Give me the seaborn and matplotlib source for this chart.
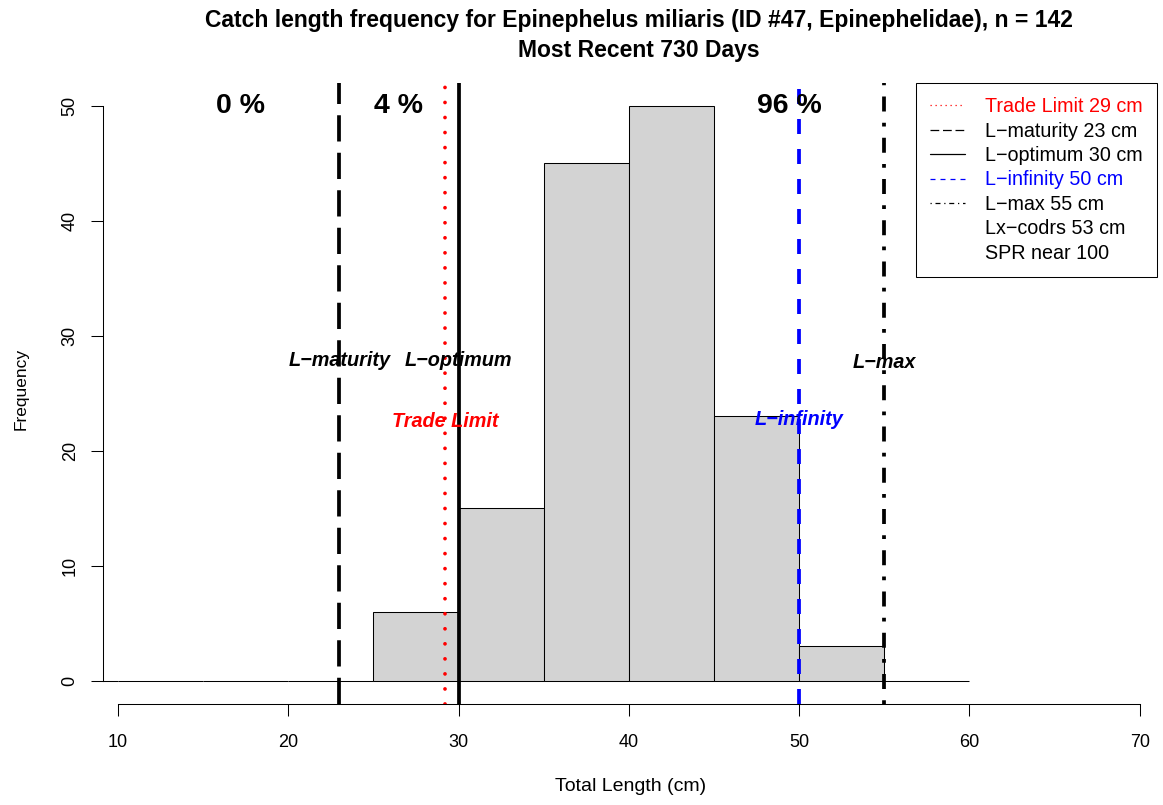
import matplotlib
matplotlib.use("Agg")
import matplotlib.pyplot as plt
import seaborn as sns
from matplotlib.lines import Line2D

# Length classes (cm) and catch counts per 5 cm class
bin_edges = [0, 5, 10, 15, 20, 25, 30, 35, 40, 45, 50, 55, 60]
bin_counts = [0, 0, 0, 0, 0, 6, 15, 45, 50, 23, 3, 0]

# Reference lengths (cm)
trade_limit = 29.2
l_maturity = 23
l_optimum = 30
l_infinity = 50
l_max = 55
lx_codrs = 53
spr_note = "SPR near 100"

species = "Epinephelus miliaris"
species_id = 47
family = "Epinephelidae"
period = "Most Recent 730 Days"

x_ticks = [10, 20, 30, 40, 50, 60, 70]
y_ticks = [0, 10, 20, 30, 40, 50]

# Where the zone percentages are written (data coords)
zone_x = [17.2, 26.5, 49.4]
zone_y = 50

# Share of the catch below maturity, between maturity and optimum, above optimum
n_total = sum(bin_counts)
mids = [(a + b) / 2 for a, b in zip(bin_edges[:-1], bin_edges[1:])]
below = sum(c for m, c in zip(mids, bin_counts) if m < l_maturity)
between = sum(c for m, c in zip(mids, bin_counts) if l_maturity <= m < l_optimum)
above = sum(c for m, c in zip(mids, bin_counts) if m >= l_optimum)
zone_pct = [round(100 * v / n_total) for v in (below, between, above)]

sns.set_theme(style="white", rc={
    "axes.edgecolor": "black", "text.color": "black", "axes.labelcolor": "black",
    "xtick.color": "black", "ytick.color": "black",
})
plt.rcParams["font.family"] = ["Liberation Sans", "DejaVu Sans"]

W, H = 1163, 805
fig = plt.figure(figsize=(W / 100, H / 100), dpi=100)
ax = fig.add_axes([103.3 / W, (H - 704) / H, (1174.7 - 103.3) / W, (704 - 82.8) / H])

sns.histplot(x=mids, weights=bin_counts, bins=bin_edges, color="#D3D3D3",
             edgecolor="black", linewidth=0.75, alpha=1, ax=ax, zorder=1)

lw = 2.7
ax.axvline(l_maturity, color="black", lw=lw, dashes=(7, 3), zorder=3)
ax.axvline(trade_limit, color="red", lw=lw, dashes=(0.01, 4),
           dash_capstyle="round", zorder=3)
ax.axvline(l_optimum, color="black", lw=lw, zorder=3)
ax.axvline(l_infinity, color="blue", lw=lw, dashes=(4, 4), zorder=3)
ax.axvline(l_max, color="black", lw=lw, dashes=(1, 3, 4, 3), zorder=3)

lab_kw = dict(ha="center", va="center", fontsize=14.3, fontweight="bold",
              fontstyle="italic", zorder=4)
ax.text(l_maturity, 27.9, "L\u2212maturity", color="black", **lab_kw)
ax.text(l_optimum, 27.9, "L\u2212optimum", color="black", **lab_kw)
ax.text(trade_limit, 22.6, "Trade Limit", color="red", **lab_kw)
ax.text(l_infinity, 22.75, "L\u2212infinity", color="blue", **lab_kw)
ax.text(l_max, 27.65, "L\u2212max", color="black", **lab_kw)

for x, p in zip(zone_x, zone_pct):
    ax.text(x, zone_y, f"{p} %", ha="center", va="center", fontsize=20.5,
            fontweight="bold", zorder=4)

hl = 0.9
handles = [
    Line2D([], [], color="red", lw=hl, dashes=(1, 3)),
    Line2D([], [], color="black", lw=hl, dashes=(7, 3)),
    Line2D([], [], color="black", lw=hl),
    Line2D([], [], color="blue", lw=hl, dashes=(4, 4)),
    Line2D([], [], color="black", lw=hl, dashes=(1, 3, 4, 3)),
    Line2D([], [], color="none"),
    Line2D([], [], color="none"),
]
labels = [
    f"Trade Limit {round(trade_limit)} cm",
    f"L\u2212maturity {l_maturity} cm",
    f"L\u2212optimum {l_optimum} cm",
    f"L\u2212infinity {l_infinity} cm",
    f"L\u2212max {l_max} cm",
    f"Lx\u2212codrs {lx_codrs} cm",
    spr_note,
]
text_colors = ["red", "black", "black", "blue", "black", "black", "black"]
leg = ax.legend(handles, labels, loc="upper right",
                bbox_to_anchor=(1157 / W, (H - 83) / H), bbox_transform=fig.transFigure,
                fontsize=14.2, frameon=True, fancybox=False, edgecolor="black",
                framealpha=1, borderaxespad=0, handlelength=1.78, handletextpad=1.0,
                labelspacing=0.275, borderpad=0.72)
leg.get_frame().set_linewidth(0.75)
for t, c in zip(leg.get_texts(), text_colors):
    t.set_color(c)

for s in ["top", "right"]:
    ax.spines[s].set_visible(False)
for s in ["left", "bottom"]:
    ax.spines[s].set_linewidth(0.75)
    ax.spines[s].set_color("black")
ax.spines["left"].set_bounds(0, 50)
ax.spines["bottom"].set_bounds(10, 70)

ax.set_xlim(9.14, 72.05)
ax.set_ylim(-2, 52)
ax.set_xticks(x_ticks)
ax.set_xticklabels([str(v) for v in x_ticks])
ax.set_yticks(y_ticks)
ax.set_yticklabels([str(v) for v in y_ticks], rotation=90, va="center")
ax.tick_params(axis="both", direction="out", length=8.4, width=0.75,
               labelsize=13, bottom=True, left=True)
ax.tick_params(axis="x", pad=13.4)
ax.tick_params(axis="y", pad=9.3)

ax.set_xlabel("Total Length (cm)", fontsize=14)
ax.xaxis.set_label_coords(0.4922, -0.1191)
ax.set_ylabel("Frequency", fontsize=12.5)
ax.yaxis.set_label_coords(-0.0695, 0.5071)
ax.set_title(f"Catch length frequency for {species} (ID #{species_id}, {family}), "
             f"n = {n_total}\n{period}", fontsize=16.5, fontweight="bold", pad=18.6,
             linespacing=1.38)

fig.savefig("out.png", dpi=100)
